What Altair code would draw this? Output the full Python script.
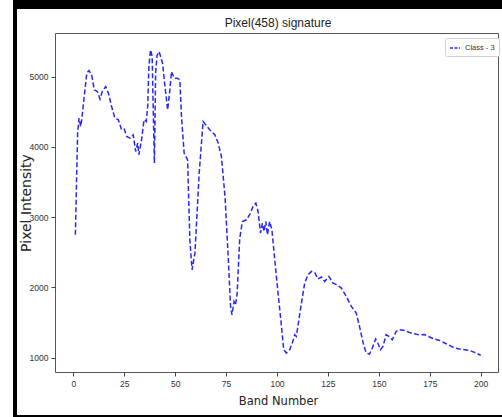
import altair as alt
import pandas as pd

# traced points of the single spectral signature (band number, pixel intensity)
bands = [1, 2.1, 2.8, 3.6, 4.1, 6.6, 7.7, 9, 10.3, 11.8, 13.1, 14.2, 15.9, 17.2, 18.8,
         20.4, 22.1, 23.7, 25, 26.2, 27.8, 29.4, 30.6, 31.6, 32.2, 33.5, 34.7, 35.8, 36.5,
         37.1, 37.9, 38.7, 39.2, 39.8, 40.4, 41.1, 42.1, 43.8, 45, 46.3, 47.4, 48.2, 49.5,
         51, 52.3, 53.1, 54.4, 56.1, 57.2, 58.3, 59.7, 61.8, 63.7, 65, 67, 69.5, 71.1,
         72.7, 74.5, 76.1, 77.2, 77.9, 78.9, 79.6, 80.4, 81.7, 83, 85, 87, 88.2, 89.6,
         90.7, 91.9, 92.8, 93.6, 94.5, 95.3, 96.4, 97.5, 98.9, 100.5, 102.2, 103.3, 104.6,
         106.2, 107.5, 108.7, 109.5, 112, 113.6, 115.2, 116.9, 118.5, 120.1, 121.8, 123.4,
         125.5, 127.5, 129.4, 131.6, 134, 136.5, 138.9, 140.5, 142.5, 143.8, 145.4, 146.8,
         148.4, 149.5, 150.8, 152, 153.6, 154.9, 156.6, 158.5, 160.1, 162.6, 165, 167.5,
         170, 172.4, 174.9, 177.3, 179.8, 182.3, 184.7, 187.2, 189.6, 192.1, 194.5, 197, 200]
intensity = [2750, 4195, 4408, 4289, 4384, 5048, 5085, 5024, 4811, 4787, 4680, 4787, 4858,
             4764, 4573, 4408, 4384, 4242, 4252, 4147, 4124, 4171, 3934, 4053, 3887, 4100,
             4384, 4360, 4573, 5142, 5380, 5284, 4573, 3768, 5048, 5300, 5355, 5190, 4858,
             4526, 4811, 5071, 4977, 4977, 4953, 4431, 3911, 3815, 2678, 2251, 2489, 3626,
             4360, 4313, 4242, 4171, 4053, 3862, 3280, 2400, 1729, 1611, 1800, 1750, 1900,
             2700, 2938, 2962, 3057, 3151, 3199, 3080, 2773, 2915, 2796, 2938, 2749, 2938,
             2820, 2393, 1920, 1445, 1114, 1067, 1114, 1209, 1327, 1303, 1778, 2062, 2180,
             2227, 2213, 2120, 2147, 2085, 2156, 2062, 2038, 1991, 1872, 1729, 1635, 1445,
             1185, 1067, 1052, 1138, 1266, 1209, 1114, 1161, 1327, 1303, 1256, 1374, 1398,
             1388, 1360, 1341, 1323, 1331, 1294, 1266, 1246, 1209, 1175, 1138, 1124, 1114,
             1104, 1076, 1035]
series_name = "Class - 3"
chart_title = "Pixel(458) signature"

x_ticks = [0, 25, 50, 75, 100, 125, 150, 175, 200]
y_ticks = [1000, 2000, 3000, 4000, 5000]

df = pd.DataFrame({"band": bands, "intensity": intensity,
                   "series": [series_name] * len(bands)})

W, H = 443, 339
FONT = "Liberation Sans"

line = alt.Chart(df).mark_line(
    strokeDash=[5, 2.5], strokeWidth=1.5, opacity=0.85
).encode(
    x=alt.X("band:Q",
            scale=alt.Scale(domain=[-9, 208.5], nice=False, zero=False),
            axis=alt.Axis(values=x_ticks, title="Band Number", format="d",
                          titleX=223, titleY=32, titleBaseline="alphabetic",
                          titleFont="DejaVu Sans", titleFontSize=11.5)),
    y=alt.Y("intensity:Q",
            scale=alt.Scale(domain=[797, 5619], nice=False, zero=False),
            axis=alt.Axis(values=y_ticks, title="Pixel Intensity", format="d",
                          titleX=-25, titleY=169.5, titleAngle=-90,
                          titleBaseline="alphabetic", titleAlign="center",
                          titleFont="DejaVu Sans", titleFontSize=14)),
    color=alt.Color("series:N", scale=alt.Scale(range=["#0000ff"]),
                    legend=alt.Legend(title=None, orient="none", legendX=390, legendY=5,
                                      symbolType="stroke", symbolDash=[3, 1.5],
                                      symbolStrokeWidth=1.5, symbolSize=100,
                                      labelFont=FONT, labelFontSize=7.5,
                                      labelColor="#333", padding=4, labelOffset=4,
                                      strokeColor="#d0d0d0", fillColor="white",
                                      cornerRadius=2))
)

title_df = pd.DataFrame({"t": [chart_title]})
title_text = alt.Chart(title_df).mark_text(
    font=FONT, fontSize=12, color="#222", align="center", baseline="alphabetic"
).encode(text="t:N", x=alt.value(223), y=alt.value(-6))

one = pd.DataFrame({"k": [0]})
left_bar = alt.Chart(one).mark_rect(color="black").encode(
    x=alt.value(-42), x2=alt.value(-38), y=alt.value(-33), y2=alt.value(384))
top_bar = alt.Chart(one).mark_rect(color="black").encode(
    x=alt.value(-42), x2=alt.value(447), y=alt.value(-33), y2=alt.value(-24))
bottom_bar = alt.Chart(one).mark_rect(color="black").encode(
    x=alt.value(-42), x2=alt.value(447), y=alt.value(382), y2=alt.value(384))

chart = alt.layer(line, title_text, left_bar, top_bar, bottom_bar).properties(
    width=W, height=H,
    autosize=alt.AutoSizeParams(type="none"),
    padding={"left": 55, "top": 33, "right": 4, "bottom": 45},
    background="white",
).configure_view(stroke="#555", strokeWidth=1).configure_axis(
    grid=False, domain=False, tickColor="#444", tickSize=4, labelFont=FONT,
    labelFontSize=8.5, labelColor="#333", titleColor="#222", titleFontWeight="normal",
    labelPadding=3
)

chart.save("out.html", embed_options={"renderer": "svg", "actions": False})
